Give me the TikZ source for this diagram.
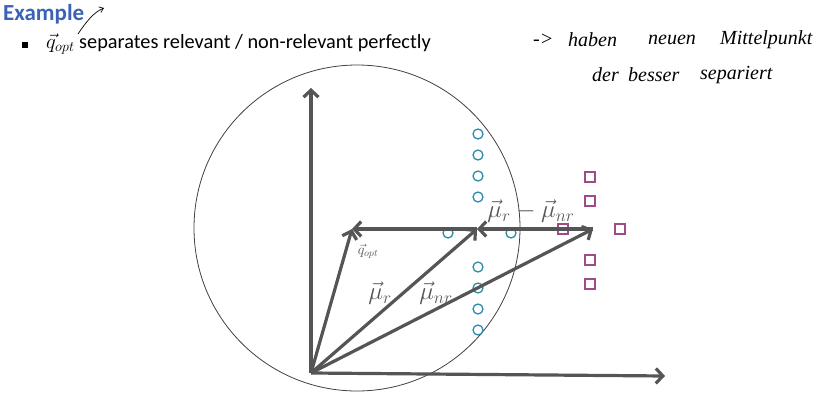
\documentclass[tikz,border=0pt]{standalone}
\usepackage{fontspec}
\setmainfont{Carlito}
\newfontfamily\handfont{Liberation Serif}
\usetikzlibrary{arrows.meta}
\definecolor{vecgray}{HTML}{555555}
\definecolor{relteal}{HTML}{2B8DA8}
\definecolor{nonpurple}{HTML}{A04A86}
\definecolor{titleblue}{HTML}{3A62B5}
\begin{document}
\begin{tikzpicture}[x=1pt,y=-1pt,
  vec/.style={draw=vecgray, line width=3.2pt, -{Straight Barb[length=7pt,width=15pt]}},
  relmark/.style={circle, draw=relteal, line width=1.3pt, minimum size=10pt, inner sep=0pt},
  nonmark/.style={rectangle, draw=nonpurple, line width=1.3pt, minimum size=10pt, inner sep=0pt},
  veclabel/.style={text=vecgray, inner sep=0pt, font=\fontsize{23}{25}\selectfont},
  handtext/.style={inner sep=0pt, anchor=west, font=\handfont\itshape\fontsize{20}{22}\selectfont}]
\useasboundingbox (0,0) rectangle (836,402);
% title and bullet
\node[anchor=west, inner sep=0pt, text=titleblue, font=\bfseries\fontsize{23}{25}\selectfont] (title) at (3,14) {Example};
\node[anchor=west, inner sep=0pt, font=\fontsize{20.3}{22}\selectfont] (bullet) at (22,44) {\rule{6pt}{6pt}\hspace{18pt}$\vec{q}_{opt}$ separates relevant / non-relevant perfectly};
% hand arrow near title
\coordinate (ha1) at (78,34);
\coordinate (ha2) at (104,8);
\draw[line width=0.7pt, -{Straight Barb[length=4pt,width=6pt]}] (ha1) .. controls (86,22) and (94,12) .. (ha2);
% handwritten notes
\node[handtext] (w1) at (533,40) {->};
\node[handtext] (w2) at (568,40) {haben};
\node[handtext] (w3) at (648,40) {neuen};
\node[handtext] (w4) at (720,40) {Mittelpunkt};
\node[handtext] (w5) at (592,75) {der};
\node[handtext] (w6) at (628,75) {besser};
\node[handtext] (w7) at (700,75) {separiert};
% big circle
\node[circle, draw=black!75, line width=0.8pt, minimum size=326pt, inner sep=0pt] (ball) at (357,228) {};
% relevant docs
\foreach \n/\px/\py in {r1/478/134, r2/478/155, r3/478/176, r4/478/197, r5/448/233, r6/511/233, r7/478/267, r8/478/288, r9/478/309, r10/478/330}
  \node[relmark] (\n) at (\px,\py) {};
% non-relevant docs
\foreach \n/\px/\py in {n1/590/177, n2/590/201, n3/563/229, n4/620/229, n5/590/260, n6/590/284}
  \node[nonmark] (\n) at (\px,\py) {};
% vectors
\coordinate (O) at (311,373);
\coordinate (Y) at (311,88);
\coordinate (X) at (665,376);
\coordinate (Q) at (352,229);
\coordinate (MR) at (477,229);
\coordinate (MNR) at (593,229);
\draw[vec] (O) -- (Y);
\draw[vec] (O) -- (X);
\draw[vec] (O) -- (Q);
\draw[vec] (O) -- (MR);
\draw[vec] (O) -- (MNR);
\draw[vec] (MNR) -- (MR);
\draw[vec] (MR) -- (Q);
% labels
\node[text=vecgray, inner sep=0pt, font=\fontsize{14}{15}\selectfont] (lq) at (368,251) {$\vec{q}_{opt}$};
\node[veclabel] (lmr) at (380,293) {$\vec{\mu}_r$};
\node[veclabel] (lmnr) at (436,293) {$\vec{\mu}_{nr}$};
\node[veclabel] (ldiff) at (531,211) {$\vec{\mu}_r - \vec{\mu}_{nr}$};
\end{tikzpicture}
\end{document}
